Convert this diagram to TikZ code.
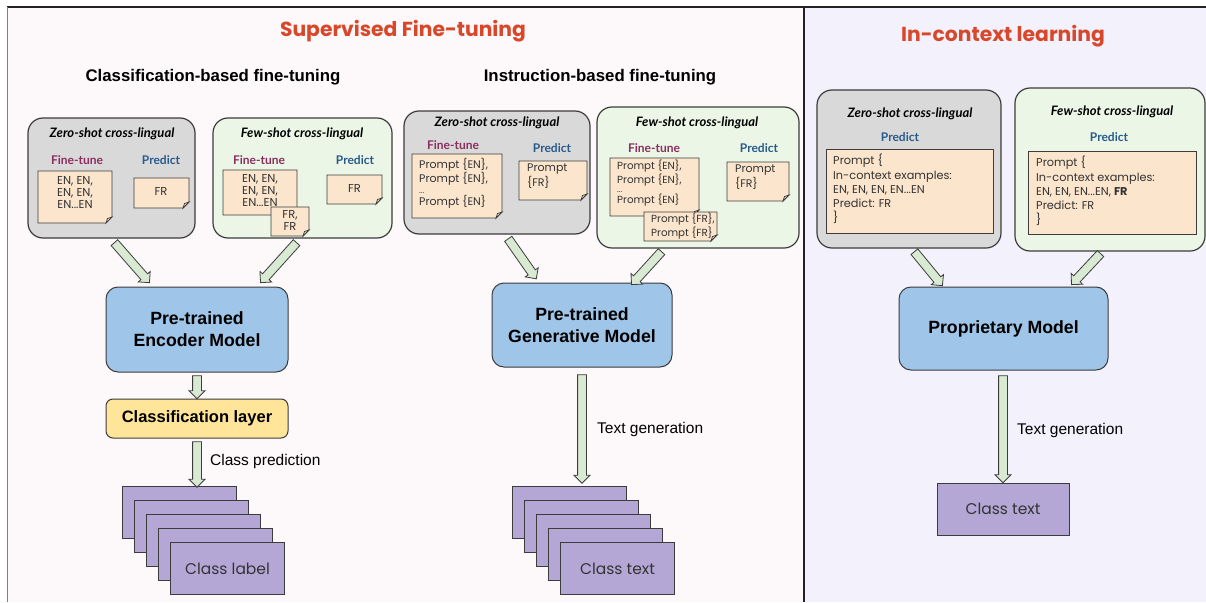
\documentclass[tikz,border=0pt]{standalone}
\usepackage{fontspec}
\setmainfont{Liberation Sans}
\newfontfamily\titlef{Poppins}
\newfontfamily\latof{Lato}
\newfontfamily\qf{Poppins}
\usetikzlibrary{shapes.arrows,calc}
\definecolor{bgleft}{HTML}{FDF8F9}
\definecolor{bgright}{HTML}{F3F1FB}
\definecolor{frameline}{HTML}{222222}
\definecolor{boxline}{HTML}{3C3C3C}
\definecolor{zerofill}{HTML}{D9D9D9}
\definecolor{fewfill}{HTML}{EBF6E6}
\definecolor{notefill}{HTML}{FCE5CD}
\definecolor{folddark}{HTML}{E6CDB4}
\definecolor{modelblue}{HTML}{9FC5E8}
\definecolor{layeryellow}{HTML}{FFE599}
\definecolor{stackpurple}{HTML}{B4A7D6}
\definecolor{arrowgreen}{HTML}{D9EAD3}
\definecolor{titlered}{HTML}{D9472B}
\definecolor{finetunec}{HTML}{8B2F5E}
\definecolor{predictc}{HTML}{285A8C}
\definecolor{notetext}{HTML}{333333}
\tikzset{
  panelbox/.style={draw=boxline, line width=1.2pt, rounded corners=15pt, minimum width=#1},
  zerobox/.style={panelbox=10pt, fill=zerofill, inner sep=0pt},
  fewbox/.style={panelbox=10pt, fill=fewfill, inner sep=0pt},
  model/.style={draw=boxline, line width=1pt, fill=modelblue, rounded corners=12pt,
     font=\fontsize{17.7}{22}\selectfont\bfseries, align=center, inner sep=0pt},
  clslayer/.style={draw=boxline, line width=1pt, fill=layeryellow, rounded corners=7pt,
     font=\fontsize{16.5}{19}\selectfont\bfseries, inner sep=0pt},
  stackbox/.style={draw=boxline, line width=1pt, fill=stackpurple, minimum width=114pt,
     minimum height=52pt, inner sep=0pt, font=\qf\fontsize{15.5}{18}\selectfont, text=notetext},
  maintitle/.style={font=\titlef\bfseries\fontsize{20.3}{24}\selectfont, text=titlered},
  subtitle/.style={font=\fontsize{16.8}{20}\selectfont\bfseries},
  shotitle/.style={font=\latof\bfseries\itshape\fontsize{13}{15}\selectfont},
  ftlabel/.style={font=\latof\bfseries\fontsize{12}{14}\selectfont, text=finetunec},
  prlabel/.style={font=\latof\bfseries\fontsize{12}{14}\selectfont, text=predictc},
  notetxt/.style={font=\qf\fontsize{11.5}{12}\selectfont, text=notetext, align=center, inner sep=0pt},
  notetxtl/.style={font=\qf\fontsize{11}{12.5}\selectfont, text=notetext, align=left, inner sep=0pt, anchor=north west},
  notetxtr/.style={font=\qf\fontsize{11.3}{14.3}\selectfont, text=notetext, align=left, inner sep=0pt, anchor=north west},
  flowlabel/.style={font=\fontsize{15.5}{18}\selectfont, anchor=west, inner sep=0pt},
  barrow/.style={single arrow, draw=boxline, fill=arrowgreen, line width=0.8pt,
     inner xsep=0pt, inner ysep=4pt, single arrow head extend=3.5pt,
     single arrow tip angle=90, anchor=center},
}
% paper note with folded corner
\newcommand\notepaper[4]{%
  \filldraw[fill=notefill, draw=boxline, line width=0.9pt]
    (#1,#2) -- (#3,#2) -- (#3,#4-6) -- (#3-6,#4) -- (#1,#4) -- cycle;
  \filldraw[fill=folddark, draw=boxline, line width=0.7pt]
    (#3,#4-6) -- (#3-6,#4) -- (#3-4.5,#4-4.5) -- cycle;}
\newcommand\noteplain[4]{%
  \filldraw[fill=notefill, draw=boxline, line width=0.9pt] (#1,#2) rectangle (#3,#4);}
\newcommand\blockarr[3]{%
  \path let \p1=($(#3)-(#2)$), \n1={veclen(\x1,\y1)}, \n2={atan2(\y1,\x1)} in
    node[barrow, minimum height=\n1, rotate=\n2] (#1) at ($(#2)!0.5!(#3)$) {};}
\begin{document}
\begin{tikzpicture}[x=1pt,y=-1pt]
\useasboundingbox (0,0) rectangle (1206,602);
% panels
\fill[white] (0,0) rectangle (1206,602);
\fill[bgleft] (7,7) rectangle (804,602);
\fill[bgright] (804,7) rectangle (1206,602);
\draw[frameline, line width=1.2pt] (7,7) -- (1206,7);
\draw[gray, line width=1pt] (7,7) -- (7,602);
\draw[frameline, line width=1.5pt] (804,7) -- (804,602);

% titles
\node[maintitle] (t1) at (403,31) {Supervised Fine-tuning};
\node[maintitle] (t2) at (1003,36) {In-context learning};
\node[subtitle] (st1) at (213,77) {Classification-based fine-tuning};
\node[subtitle] (st2) at (600,77) {Instruction-based fine-tuning};

% ---------- left: classification ----------
\node[zerobox, minimum width=167pt, minimum height=120pt] (z1) at (111.5,178) {};
\node[shotitle] (z1t) at (112,134) {Zero-shot cross-lingual};
\node[ftlabel] (z1f) at (77,160) {Fine-tune};
\node[prlabel] (z1p) at (161,160) {Predict};
\notepaper{38}{171}{112}{223}
\node[notetxt] (z1n) at (75,193) {EN, EN,\\EN, EN,\\EN...EN};
\notepaper{134}{178}{189}{208}
\node[notetxt] (z1q) at (161,191) {FR};

\node[fewbox, minimum width=179pt, minimum height=120pt] (f1) at (302.5,178) {};
\node[shotitle] (f1t) at (302,134) {Few-shot cross-lingual};
\node[ftlabel] (f1f) at (259,160) {Fine-tune};
\node[prlabel] (f1p) at (355,160) {Predict};
\notepaper{223}{170}{297}{215}
\node[notetxt] (f1n) at (260,190.5) {EN, EN,\\EN, EN,\\EN...EN};
\notepaper{271}{207}{309}{236}
\node[notetxt] (f1m) at (290,220) {FR,\\FR};
\notepaper{327}{175}{382}{204}
\node[notetxt] (f1q) at (354.5,188) {FR};

\node[model, minimum width=182pt, minimum height=85pt] (enc) at (197,329.5) {Pre-trained\\Encoder Model};
\node[clslayer, minimum width=182pt, minimum height=39pt] (cls) at (197,418.5) {Classification layer};
\foreach \i in {0,...,3}
  \node[stackbox, anchor=north west] (ls\i) at (122+12*\i,486+14*\i) {};
\node[stackbox, anchor=north west] (ls4) at (170,542) {Class label};

\coordinate (a1s) at (113,241); \coordinate (a1e) at (148,281);
\coordinate (a2s) at (298,241); \coordinate (a2e) at (262,281);
\blockarr{ar1}{a1s}{a1e}
\blockarr{ar2}{a2s}{a2e}
\coordinate (a3s) at ($(enc.south)+(0,1)$); \coordinate (a3e) at ($(cls.north)+(0,-2)$);
\blockarr{ar3}{a3s}{a3e}
\coordinate (a4s) at ($(cls.south)+(0,1)$); \coordinate (a4e) at ($(ls0.north west)+(75,-1)$);
\blockarr{ar4}{a4s}{a4e}
\node[flowlabel] (lp) at (210,461) {Class prediction};

% ---------- middle: instruction ----------
\node[zerobox, minimum width=186pt, minimum height=123pt] (z2) at (497,172.5) {};
\node[shotitle] (z2t) at (497,123) {Zero-shot cross-lingual};
\node[ftlabel] (z2f) at (453,145) {Fine-tune};
\node[prlabel] (z2p) at (552,148) {Predict};
\notepaper{412}{154}{502}{218}
\node[notetxtl] (z2n) at (419,158) {Prompt \{EN\},\\Prompt \{EN\},\\[-2pt]{\fontsize{8}{9}\selectfont ...}\\Prompt \{EN\}};
\notepaper{519}{161}{587}{200}
\node[notetxtl] (z2q) at (527,164) {Prompt\\\{FR\}};

\node[fewbox, minimum width=202pt, minimum height=141pt] (f2) at (698,177.5) {};
\node[shotitle] (f2t) at (697,123) {Few-shot cross-lingual};
\node[ftlabel] (f2f) at (654,148) {Fine-tune};
\node[prlabel] (f2p) at (759,148) {Predict};
\notepaper{610}{158}{699}{216}
\node[notetxtl, font=\qf\fontsize{10.3}{11}\selectfont] (f2n) at (617,160) {Prompt \{EN\},\\Prompt \{EN\},\\[-2pt]{\fontsize{8}{9}\selectfont ...}\\Prompt \{EN\}};
\notepaper{644}{212}{717}{241}
\node[notetxtl, font=\qf\fontsize{10.3}{11}\selectfont] (f2m) at (651,213) {Prompt \{FR\},\\Prompt \{FR\}};
\notepaper{727}{162}{789}{201}
\node[notetxtl] (f2q) at (735,165) {Prompt\\\{FR\}};

\node[model, minimum width=180pt, minimum height=84pt] (gen) at (582,325) {Pre-trained\\Generative Model};
\foreach \i in {0,...,3}
  \node[stackbox, anchor=north west] (ms\i) at (512+12*\i,486+14*\i) {};
\node[stackbox, anchor=north west] (ms4) at (560,542) {Class text};

\coordinate (b1s) at (507,237); \coordinate (b1e) at (535,277);
\coordinate (b2s) at (663,250); \coordinate (b2e) at (633,283);
\blockarr{br1}{b1s}{b1e}
\blockarr{br2}{b2s}{b2e}
\coordinate (b3s) at ($(gen.south)+(0,5)$); \coordinate (b3e) at ($(ms0.north west)+(70,-5)$);
\blockarr{br3}{b3s}{b3e}
\node[flowlabel] (mg) at (597,429) {Text generation};

% ---------- right: in-context ----------
\node[zerobox, minimum width=184pt, minimum height=158pt] (z3) at (909,169) {};
\node[shotitle] (z3t) at (910,114) {Zero-shot cross-lingual};
\node[prlabel] (z3p) at (900,137) {Predict};
\noteplain{826}{149}{993}{233}
\node[notetxtr] (z3n) at (833,154) {Prompt \{\\In-context examples:\\EN, EN, EN, EN...EN\\Predict: FR\\\}};

\node[fewbox, minimum width=190pt, minimum height=163pt] (f3) at (1110,169.5) {};
\node[shotitle] (f3t) at (1112,112) {Few-shot cross-lingual};
\node[prlabel] (f3p) at (1109,137) {Predict};
\noteplain{1028}{151}{1196}{234}
\node[notetxtr] (f3n) at (1036,156) {Prompt \{\\In-context examples:\\EN, EN, EN...EN, \textbf{FR}\\Predict: FR\\\}};

\node[model, minimum width=209pt, minimum height=83pt] (prop) at (1003.5,328.5) {Proprietary Model};
\node[stackbox, minimum width=132pt] (ct) at (1003,509) {Class text};

\coordinate (c1s) at (913,250); \coordinate (c1e) at (941,284);
\coordinate (c2s) at (1102,252); \coordinate (c2e) at (1073,283);
\blockarr{cr1}{c1s}{c1e}
\blockarr{cr2}{c2s}{c2e}
\coordinate (c3s) at ($(prop.south)+(-0.5,3)$); \coordinate (c3e) at ($(ct.north)+(0,-2)$);
\blockarr{cr3}{c3s}{c3e}
\node[flowlabel] (rg) at (1017,430) {Text generation};
\end{tikzpicture}
\end{document}
